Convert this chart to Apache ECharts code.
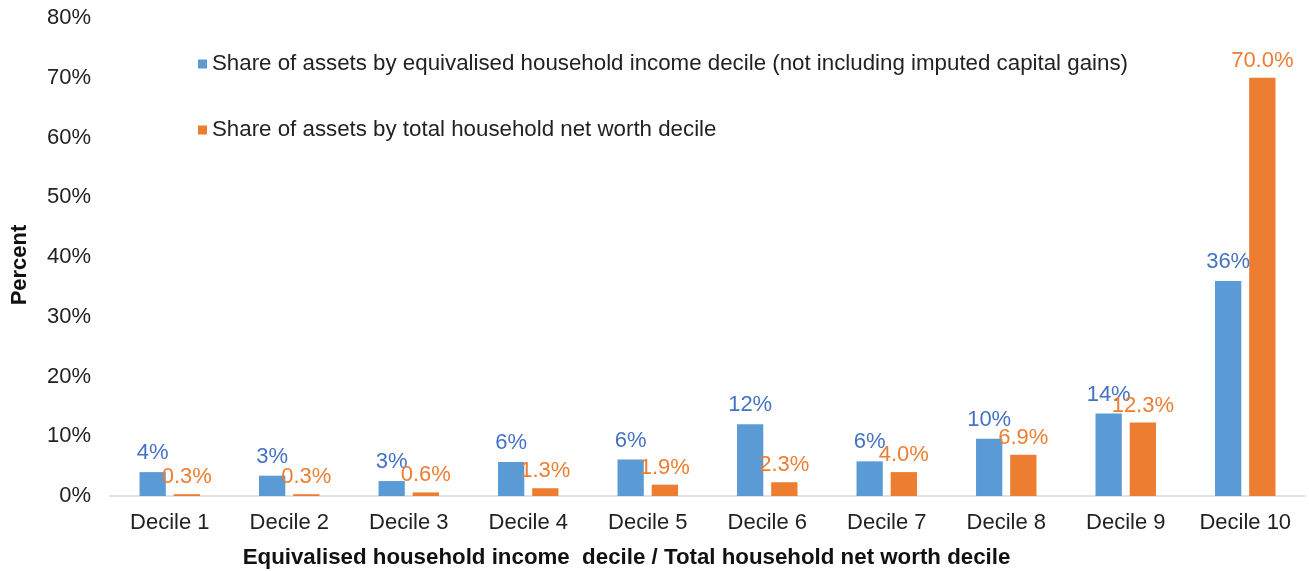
<!DOCTYPE html>
<html>
<head>
<meta charset="utf-8">
<script src="https://cdn.jsdelivr.net/npm/echarts@6/dist/echarts.min.js"></script>
<style>html,body{margin:0;padding:0;background:#fff}#c{width:1309px;height:571px}</style>
</head>
<body>
<div id="c"></div>
<script>
const categories = ['Decile 1','Decile 2','Decile 3','Decile 4','Decile 5','Decile 6','Decile 7','Decile 8','Decile 9','Decile 10'];
const incomeShare = [4.0, 3.4, 2.5, 5.7, 6.1, 12.0, 5.8, 9.6, 13.8, 36.0];
const netWorthShare = [0.3, 0.3, 0.6, 1.3, 1.9, 2.3, 4.0, 6.9, 12.3, 70.0];
const seriesNames = ['Share of assets by equivalised household income decile (not including imputed capital gains)', 'Share of assets by total household net worth decile'];
const yTicks = [0, 10, 20, 30, 40, 50, 60, 70, 80];

const FONT = 'Liberation Sans, Arial, sans-serif';
const chart = echarts.init(document.getElementById('c'));
chart.setOption({
  animation: false,
  textStyle: { fontFamily: FONT },
  grid: { left: 110, right: 4, top: 18, bottom: 75, containLabel: false, outerBoundsMode: 'none' },
  legend: {
    orient: 'vertical',
    left: 193, top: 48,
    itemWidth: 9, itemHeight: 9, itemGap: 44,
    icon: 'rect',
    textStyle: { fontSize: 22.3, color: '#222', fontFamily: FONT },
    data: seriesNames
  },
  xAxis: {
    type: 'category',
    data: categories,
    axisLine: { lineStyle: { color: '#d9d9d9', width: 1.5 } },
    axisTick: { show: false },
    axisLabel: { fontSize: 22, color: '#222', margin: 16, fontFamily: FONT },
    name: 'Equivalised household income  decile / Total household net worth decile',
    nameLocation: 'middle',
    nameGap: 51,
    nameTextStyle: { fontSize: 22.3, fontWeight: 'bold', color: '#111', fontFamily: FONT, padding: [0, 162, 0, 0] }
  },
  yAxis: {
    type: 'value',
    min: yTicks[0], max: yTicks[yTicks.length-1], interval: 10,
    splitLine: { show: false },
    axisLine: { show: false },
    axisTick: { show: false },
    axisLabel: { fontSize: 22, color: '#222', margin: 19, formatter: v => v + '%', fontFamily: FONT },
    name: 'Percent',
    nameLocation: 'middle',
    nameGap: 79,
    nameRotate: 90,
    nameTextStyle: { fontSize: 22, fontWeight: 'bold', color: '#111', fontFamily: FONT, padding: [0, 16, 0, 0] }
  },
  series: [
    {
      name: seriesNames[0], type: 'bar', data: incomeShare,
      barWidth: '22%', barGap: '30%',
      itemStyle: { color: '#5B9BD5' },
      label: { show: true, position: 'top', distance: 8, fontSize: 22, color: '#4472C4', fontFamily: FONT,
        formatter: p => Math.round(p.value) + '%' }
    },
    {
      name: seriesNames[1], type: 'bar', data: netWorthShare,
      barWidth: '22%',
      itemStyle: { color: '#ED7D31' },
      label: { show: true, position: 'top', distance: 6, fontSize: 22, color: '#ED7D31', fontFamily: FONT,
        formatter: p => p.value.toFixed(1) + '%' }
    }
  ]
});
</script>
</body>
</html>
